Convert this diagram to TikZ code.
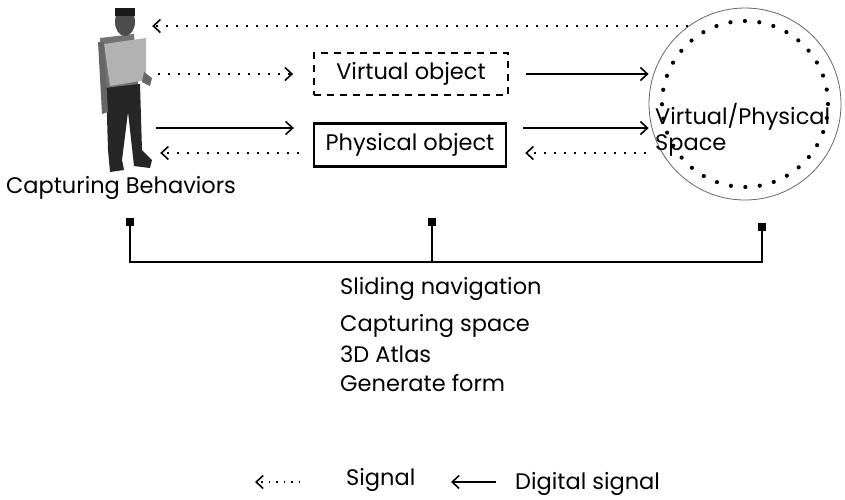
\documentclass[tikz,border=0pt]{standalone}
\usepackage{fontspec}
\setmainfont{Poppins}
\usepackage{tikz}
\usetikzlibrary{arrows.meta,positioning}

\begin{document}
\begin{tikzpicture}[x=1pt, y=-1pt, font=\fontsize{22.5}{27}\selectfont, node distance=10pt]

\tikzstyle{boxtext}=[rectangle, inner sep=0pt, minimum width=194pt, minimum height=42pt, text centered]
\tikzstyle{sig}=[line width=1.6pt, dash pattern=on 2pt off 8pt, -{Straight Barb[length=7pt,width=13pt,line width=1.6pt]}]
\tikzstyle{dsig}=[line width=1.6pt, -{Straight Barb[length=7pt,width=13pt,line width=1.6pt]}]
\tikzstyle{bus}=[line width=1.6pt]
\tikzstyle{pin}=[fill=black, minimum size=8pt, inner sep=0pt]
\tikzstyle{item}=[anchor=west, inner sep=0pt]

\useasboundingbox (0,0) rectangle (845,499);

% the person
\fill[black!85] (106,84) -- (140,84) -- (142,150) -- (152,160) -- (150,168) -- (134,166) -- (128,112)
  -- (122,160) -- (124,170) -- (110,172) -- (108,150) -- cycle;
\fill[black!55] (100,38) -- (134,34) -- (138,84) -- (104,88) -- cycle;
\fill[black!30] (104,44) -- (146,38) -- (146,80) -- (110,86) -- cycle;
\fill[black!60] (98,42) -- (104,42) -- (108,112) -- (102,114) -- cycle;
\fill[black!60] (144,72) -- (152,78) -- (150,86) -- (142,82) -- cycle;
\fill[black!70] (125,22) ellipse (10pt and 14pt);
\fill[black!90] (115,8) rectangle (135,16);
\node[inner sep=0pt, minimum width=60pt, minimum height=170pt] (person) at (125,88) {};
\node (capt) at (121,188) {Capturing Behaviors};

% objects and space
\node[boxtext, draw, line width=1.8pt, dash pattern=on 7pt off 6pt] (virt) at (411,74) {Virtual object};
\node[boxtext, draw, line width=2.4pt, minimum width=192pt, minimum height=43pt] (phys) at (410,145) {Physical object};
\node[circle, draw=black!60, line width=0.8pt, minimum size=192pt] (space) at (745,104) {};
\draw[line width=4.2pt, dash pattern=on 0pt off 14.5pt, line cap=round] (space.center) circle (83pt);
\node[align=left, anchor=west, inner sep=0pt, font=\fontsize{22.5}{26}\selectfont] (spacetext) at (655,130) {Virtual/Physical\\Space};

% signals
\draw[sig] (space.126) -- ([xshift=-3pt]space.126 -| person.east);
\draw[sig] (virt.west -| person.east) ++(3,0) -- ([xshift=-20pt]virt.west);
\draw[dsig] (virt.east) ++(17,0) -- (virt.east -| space.west);
\draw[dsig] ([yshift=17pt,xshift=1pt]person.east |- phys.west) -- ([yshift=17pt,xshift=-19pt]phys.west);
\draw[sig] ([yshift=-8pt,xshift=-14pt]phys.west) -- ([yshift=-8pt,xshift=5pt]person.east |- phys.west);
\draw[dsig] ([yshift=17pt,xshift=16pt]phys.east) -- ([yshift=17pt]phys.east -| space.west);
\draw[sig] ([yshift=-8pt,xshift=-3pt]phys.east -| space.west) -- ([yshift=-8pt,xshift=18pt]phys.east);

% navigation bus
\node[pin] (pa) at (130,222) {};
\node[pin] (pb) at (432,222) {};
\node[pin] (pc) at (762,227) {};
\coordinate (ba) at (130,262);
\coordinate (bb) at (432,262);
\coordinate (bc) at (762,262);
\draw[bus] (pa.center) -- (ba) -- (bc) -- (pc.center);
\draw[bus] (pb.center) -- (bb);

\node[item] (nav) at (340,289) {Sliding navigation};
\node[item] (cspace) at (340,326) {Capturing space};
\node[item] (atlas) at (340,354) {3D Atlas};
\node[item] (form) at (340,383) {Generate form};

% legend
\coordinate (la) at (300,482);
\coordinate (lb) at (255,482);
\draw[sig, line width=1.2pt, dash pattern=on 1.5pt off 6pt] (la) -- (lb);
\node[item] (lsig) at (346,480) {Signal};
\coordinate (lc) at (496,482);
\coordinate (ld) at (451,482);
\draw[dsig, line width=1.4pt] (lc) -- (ld);
\node[item] (ldig) at (515,484) {Digital signal};

\end{tikzpicture}
\end{document}
